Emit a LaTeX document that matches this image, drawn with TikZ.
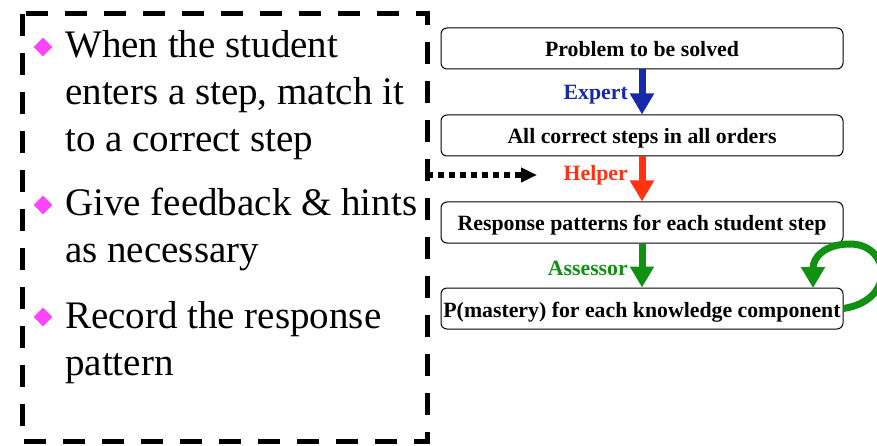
\documentclass[tikz,border=0pt]{standalone}
\usepackage{fontspec}
\setmainfont{Liberation Serif}
\usetikzlibrary{arrows.meta,shapes.geometric}
\definecolor{expertblue}{RGB}{24,40,170}
\definecolor{helperred}{RGB}{255,51,17}
\definecolor{assessgreen}{RGB}{17,145,17}
\definecolor{bulletpink}{RGB}{255,68,255}
\tikzset{
  stage/.style={draw=black, line width=1pt, rounded corners=6pt,
    minimum width=402pt, minimum height=41pt, inner sep=0pt,
    text height=19pt, text depth=2pt,
    font=\fontsize{21.8}{24}\selectfont\bfseries},
  flow/.style={line width=7pt, -{Triangle[width=23pt,length=21pt]}},
  role/.style={anchor=east, inner sep=0pt, font=\fontsize{21.8}{24}\selectfont\bfseries},
  bullet/.style={diamond, fill=bulletpink, inner sep=0pt, minimum width=19pt, minimum height=19pt},
  textline/.style={anchor=base west, inner sep=0pt, font=\fontsize{39}{47}\selectfont},
}
\begin{document}
\begin{tikzpicture}[x=1pt,y=1pt]
\useasboundingbox (0,0) rectangle (877,-446);

% dashed frame around the tutor's tasks
\draw[line width=5pt, dash pattern=on 22pt off 17pt] (22,-14) rectangle (427,-441);

% bullet list
\node[bullet] (b1) at (43,-47) {};
\node[textline] (l1) at (65,-58) {When the student};
\node[textline] (l2) at (65,-105) {enters a step, match it};
\node[textline] (l3) at (65,-152) {to a correct step};
\node[bullet] (b2) at (43,-205) {};
\node[textline] (l4) at (65,-215) {Give feedback \& hints};
\node[textline] (l5) at (65,-262) {as necessary};
\node[bullet] (b3) at (43,-317) {};
\node[textline] (l6) at (65,-328) {Record the response};
\node[textline] (l7) at (65,-375) {pattern};

% pipeline of stages
\node[stage] (p1) at (642,-48.5) {Problem to be solved};
\node[stage] (p2) at (642,-135.5) {All correct steps in all orders};
\node[stage] (p3) at (642,-222.5) {Response patterns for each student step};
\node[stage] (p4) at (642,-308.5) {P(mastery) for each knowledge component};

\draw[flow, expertblue] (p1.south) -- (p2.north);
\draw[flow, helperred] (p2.south) -- (p3.north);
\draw[flow, assessgreen] (p3.south) -- (p4.north);

\node[role, text=expertblue] (r1) at (628,-95) {Expert};
\node[role, text=helperred] (r2) at (628,-175) {Helper};
\node[role, text=assessgreen] (r3) at (628,-268) {Assessor};

% self-loop on the mastery estimate
\coordinate (loopend) at (813,-288);
\draw[line width=7pt, assessgreen, -{Triangle[width=23pt,length=21pt]}]
  (p4.east) .. controls (897,-300) and (890,-244) .. (850,-244)
  .. controls (824,-244) and (813,-258) .. (loopend);

% link from the frame into the helper stage
\coordinate (linkstart) at (427,-175);
\coordinate (linkend) at (537,-175);
\draw[line width=6pt, dash pattern=on 6pt off 5pt, -{Triangle[width=14pt,length=16pt]}]
  (linkstart) -- (linkend);
\end{tikzpicture}
\end{document}
